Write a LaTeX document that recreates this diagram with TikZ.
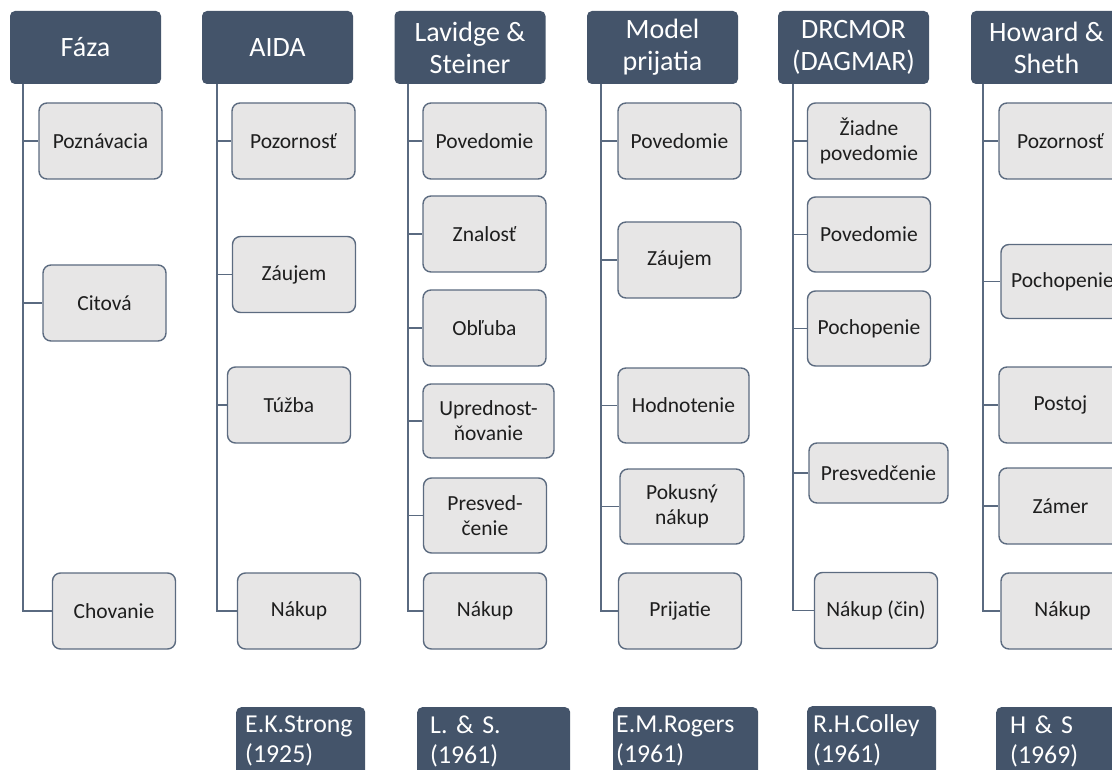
\documentclass[tikz,border=0pt]{standalone}
\usepackage{fontspec}
\setmainfont{Carlito}
\frenchspacing
\definecolor{hdrc}{HTML}{44546A}
\definecolor{boxc}{HTML}{E7E6E6}
\definecolor{bordc}{HTML}{5C6B80}
\definecolor{connc}{HTML}{5A6A80}
\definecolor{txtc}{HTML}{1E1E1E}
\tikzset{
  hdr/.style={fill=hdrc, rounded corners=5pt, text=white, font=\fontsize{28}{32}\selectfont,
    align=center, minimum width=151pt, minimum height=73pt, inner sep=0pt},
  box/.style={draw=bordc, line width=1.4pt, fill=boxc, rounded corners=8pt,
    font=\fontsize{21.5}{25}\selectfont, text=txtc, align=center,
    minimum width=123pt, minimum height=76pt, inner sep=2pt},
  conn/.style={draw=connc, line width=1.8pt},
  src/.style={fill=hdrc, rounded corners=5pt, text=white, font=\fontsize{25.8}{30}\selectfont,
    align=left, anchor=north west, minimum height=68pt, inner ysep=0pt}
}
\begin{document}
\begin{tikzpicture}[x=1pt,y=-1pt]
\useasboundingbox (0,0) rectangle (1112,770);
% headers
\node[hdr] (h1) at (85.5,47.5) {Fáza};
\node[hdr] (h2) at (277.5,47.5) {AIDA};
\node[hdr] (h3) at (470,47.5) {Lavidge \&\\Steiner};
\node[hdr] (h4) at (662.5,47.5) {Model\\prijatia};
\node[hdr] (h5) at (853.5,47.5) {DRCMOR\\(DAGMAR)};
\node[hdr] (h6) at (1046.5,47.5) {Howard \&\\Sheth};
\coordinate (t1) at ([xshift=13pt]h1.south west);
\coordinate (t2) at ([xshift=15pt]h2.south west);
\coordinate (t3) at ([xshift=14pt]h3.south west);
\coordinate (t4) at ([xshift=14pt]h4.south west);
\coordinate (t5) at ([xshift=15pt]h5.south west);
\coordinate (t6) at ([xshift=12pt]h6.south west);
% column 1
\node[box] (a1) at (100.5,141) {Poznávacia};
\node[box] (a2) at (104.5,303) {Citová};
\node[box] (a3) at (114,611) {Chovanie};
% column 2
\node[box] (b1) at (293.5,141) {Pozornosť};
\node[box] (b2) at (294,274.5) {Záujem};
\node[box] (b3) at (289,405) {Túžba};
\node[box] (b4) at (299,611) {Nákup};
% column 3
\node[box] (c1) at (484.5,141) {Povedomie};
\node[box] (c2) at (484.5,234) {Znalosť};
\node[box] (c3) at (484.5,328) {Obľuba};
\node[box, minimum width=131pt, minimum height=74pt] (c4) at (488.5,421) {Uprednost-\\ňovanie};
\node[box, minimum height=75pt] (c5) at (485,515.5) {Presved-\\čenie};
\node[box] (c6) at (485,611) {Nákup};
% column 4
\node[box] (d1) at (679.5,141) {Povedomie};
\node[box] (d2) at (679.5,260) {Záujem};
\node[box, minimum width=131pt, minimum height=75pt] (d3) at (683.5,405.5) {Hodnotenie};
\node[box, minimum width=124pt, minimum height=75pt] (d4) at (682,506.5) {Pokusný\\nákup};
\node[box] (d5) at (680,611) {Prijatie};
% column 5
\node[box] (e1) at (869,141) {Žiadne\\povedomie};
\node[box, minimum height=75pt] (e2) at (869,234.5) {Povedomie};
\node[box, minimum height=75pt] (e3) at (869,328.5) {Pochopenie};
\node[box, minimum width=139pt, minimum height=60pt] (e4) at (878.5,473) {Presvedčenie};
\node[box] (e5) at (876,610.5) {Nákup (čin)};
% column 6
\node[box] (f1) at (1060.5,141) {Pozornosť};
\node[box, minimum height=74pt] (f2) at (1062.5,281.5) {Pochopenie};
\node[box] (f3) at (1060.5,405) {Postoj};
\node[box] (f4) at (1060.5,506) {Zámer};
\node[box] (f5) at (1062.5,611) {Nákup};
% connectors
\draw[conn] (t1) |- (a3.west);
\foreach \n in {a1,a2} \draw[conn] (\n.west -| t1) -- (\n.west);
\draw[conn] (t2) |- (b4.west);
\foreach \n in {b1,b2,b3} \draw[conn] (\n.west -| t2) -- (\n.west);
\draw[conn] (t3) |- (c6.west);
\foreach \n in {c1,c2,c3,c4,c5} \draw[conn] (\n.west -| t3) -- (\n.west);
\draw[conn] (t4) |- (d5.west);
\foreach \n in {d1,d2,d3,d4} \draw[conn] (\n.west -| t4) -- (\n.west);
\draw[conn] (t5) |- (e5.west);
\foreach \n in {e1,e2,e3,e4} \draw[conn] (\n.west -| t5) -- (\n.west);
\draw[conn] (t6) |- (f5.west);
\foreach \n in {f1,f2,f3,f4} \draw[conn] (\n.west -| t6) -- (\n.west);
% sources
\node[src, text width=111pt, inner xsep=9pt] (s1) at (236,707) {E.K.Strong\\(1925)};
\node[src, text width=127pt, inner xsep=13pt] (s2) at (417,707) {L. \& S.\\(1961)};
\node[src, text width=139pt, inner xsep=3pt] (s3) at (613,707) {E.M.Rogers\\(1961)};
\node[src, text width=117pt, inner xsep=6pt] (s4) at (807,706) {R.H.Colley\\(1961)};
\node[src, text width=102pt, inner xsep=14pt] (s5) at (996,707) {H \& S\\(1969)};
\end{tikzpicture}
\end{document}
